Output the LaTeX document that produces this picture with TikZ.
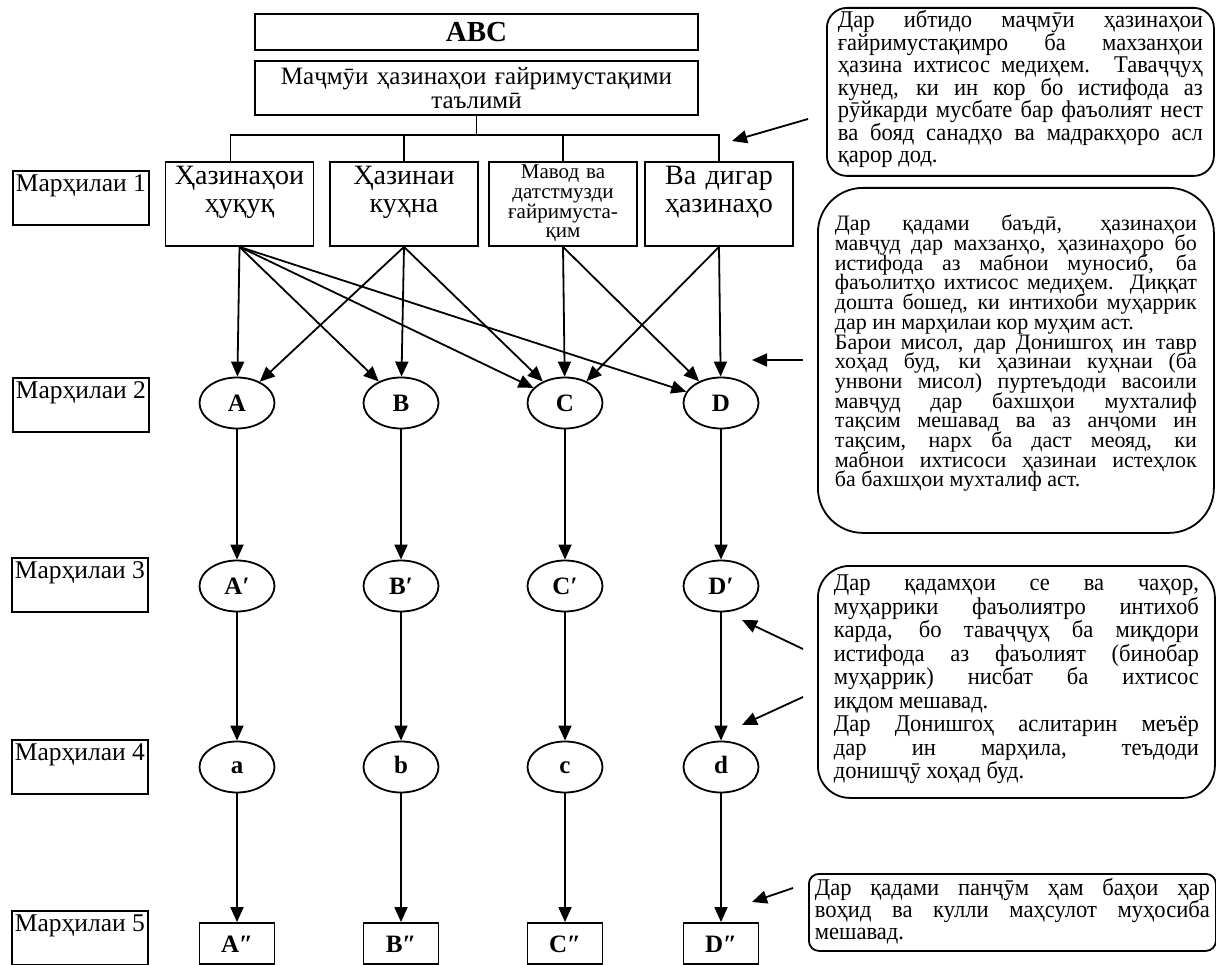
\documentclass[tikz,border=0pt]{standalone}
\usepackage{fontspec}
\setmainfont{Liberation Serif}
\newfontfamily\notefont[FakeStretch=0.94]{Liberation Serif}
\newcommand{\tightlines}{\lineskiplimit=-50pt\relax}
\usepackage{tikz}
\usetikzlibrary{arrows.meta,shapes.geometric}

\begin{document}
\begin{tikzpicture}[x=1pt,y=-1pt,line width=1.8pt,
	>={Triangle[length=15pt,width=13pt]},
	headbox/.style={draw,minimum width=443pt,inner sep=2pt,text width=435pt,align=center},
	stagelabel/.style={draw,anchor=north west,inner xsep=3pt,inner ysep=2pt,
		font=\fontsize{25.5}{25.5}\selectfont,text height=19pt,text depth=31pt},
	fundbox/.style={draw,text width=140pt,inner sep=4pt,align=center,
		font=\fontsize{28}{28}\selectfont,text height=19pt,text depth=57pt},
	pool/.style={draw,ellipse,minimum width=75pt,minimum height=51pt,inner sep=0pt,
		text height=17pt,text depth=0pt,font=\fontsize{25}{25}\selectfont\bfseries},
	costbox/.style={draw,minimum width=75pt,minimum height=41pt,inner sep=0pt,
		text height=18pt,text depth=0pt,font=\fontsize{25}{25}\selectfont\bfseries},
	note/.style={draw,anchor=north west,rounded corners=#1,align=justify,
		execute at begin node=\tightlines},
	note/.default=20pt]
	\useasboundingbox (0,0) rectangle (1216,965);
	%
	\node[headbox,minimum height=36pt,font=\fontsize{29}{29}\selectfont\bfseries] (abc) at (476.5,32) {ABC};
	\node[headbox,minimum height=54pt,font=\fontsize{25}{24}\selectfont] (total) at (476.5,88)
		{Маҷмӯи ҳазинаҳои ғайримустақими\\таълимӣ};
	\coordinate (bus) at (476.5,135);
	%
	\node[stagelabel] (st1) at (12,170) {Марҳилаи 1};
	\node[stagelabel] (st2) at (12,377) {Марҳилаи 2};
	\node[stagelabel] (st3) at (11,557) {Марҳилаи 3};
	\node[stagelabel] (st4) at (11,739) {Марҳилаи 4};
	\node[stagelabel] (st5) at (11,910) {Марҳилаи 5};
	%
	\node[fundbox] (s1a) at (239.5,204) {Ҳазинаҳои\\ҳуқуқ};
	\node[fundbox] (s1b) at (404,204) {Ҳазинаи\\куҳна};
	\node[fundbox,inner sep=2pt,text width=144pt,text height=15pt,text depth=65pt,
		font=\fontsize{21}{19.6}\selectfont,execute at begin node=\tightlines] (s1c) at (563,204)
		{Мавод ва\\датстмузди\\ғайримуста-\\қим};
	\node[fundbox] (s1d) at (719,204) {Ва дигар\\ҳазинаҳо};
	%
	\node[pool] (A) at (237,403) {A};
	\node[pool] (B) at (401,403) {B};
	\node[pool] (C) at (565,403) {C};
	\node[pool] (D) at (721,403) {D};
	\node[pool] (A') at (237,586) {A′};
	\node[pool] (B') at (401,586) {B′};
	\node[pool] (C') at (565,586) {C′};
	\node[pool] (D') at (721,586) {D′};
	\node[pool,text height=12pt] (a) at (237,767) {a};
	\node[pool,text height=12pt] (b) at (401,767) {b};
	\node[pool,text height=12pt] (c) at (565,767) {c};
	\node[pool,text height=12pt] (d) at (721,767) {d};
	\node[costbox] (A'') at (237,943.5) {A″};
	\node[costbox] (B'') at (401,943.5) {B″};
	\node[costbox] (C'') at (565,943.5) {C″};
	\node[costbox] (D'') at (721,943.5) {D″};
	%
	\node[note,text width=365pt,inner xsep=11pt,inner ysep=4pt,text height=16pt,text depth=144pt,
		font=\notefont\fontsize{24}{22.5}\selectfont] (note1) at (826,7)
		{Дар ибтидо маҷмӯи ҳазинаҳои\linebreak
		ғайримустақимро ба махзанҳои\linebreak
		ҳазина ихтисос медиҳем. Таваҷҷуҳ\linebreak
		кунед, ки ин кор бо истифода аз\linebreak
		рӯйкарди мусбате бар фаъолият нест\linebreak
		ва бояд санадҳо ва мадракҳоро асл\linebreak
		қарор дод.};
	\node[note=45pt,text width=362pt,inner xsep=17pt,inner ysep=4pt,text height=39pt,text depth=298pt,
		font=\fontsize{22}{19.7}\selectfont] (note2) at (817,187)
		{Дар қадами баъдӣ, ҳазинаҳои\linebreak
		мавҷуд дар махзанҳо, ҳазинаҳоро бо\linebreak
		истифода аз мабнои муносиб, ба\linebreak
		фаъолитҳо ихтисос медиҳем. Диққат\linebreak
		дошта бошед, ки интихоби муҳаррик\linebreak
		дар ин марҳилаи кор муҳим аст.\par
		Барои мисол, дар Донишгоҳ ин тавр\linebreak
		хоҳад буд, ки ҳазинаи куҳнаи (ба\linebreak
		унвони мисол) пуртеъдоди васоили\linebreak
		мавҷуд дар бахшҳои мухталиф\linebreak
		тақсим мешавад ва аз анҷоми ин\linebreak
		тақсим, нарх ба даст меояд, ки\linebreak
		мабнои ихтисоси ҳазинаи истеҳлок\linebreak
		ба бахшҳои мухталиф аст.};
	\node[note=32pt,text width=365pt,inner xsep=16pt,inner ysep=4pt,text height=21pt,text depth=203pt,
		font=\notefont\fontsize{24}{23.5}\selectfont] (note3) at (817,565)
		{Дар қадамҳои се ва чаҳор,\linebreak
		муҳаррики фаъолиятро интихоб\linebreak
		карда, бо таваҷҷуҳ ба миқдори\linebreak
		истифода аз фаъолият (бинобар\linebreak
		муҳаррик) нисбат ба ихтисос\linebreak
		иқдом мешавад.\par
		Дар Донишгоҳ аслитарин меъёр\linebreak
		дар ин марҳила, теъдоди\linebreak
		донишҷӯ хоҳад буд.};
	\node[note=10pt,text width=395pt,inner xsep=6pt,inner ysep=3pt,text height=19pt,text depth=52pt,
		font=\notefont\fontsize{24}{21.7}\selectfont] (note4) at (808,873)
		{Дар қадами панҷӯм ҳам баҳои ҳар\linebreak
		воҳид ва кулли маҳсулот муҳосиба\linebreak
		мешавад.};
	%
	\coordinate (n1from) at (808,119);
	\coordinate (n1to) at (732,141);
	\coordinate (n2from) at (803,360);
	\coordinate (n2to) at (752,360);
	\coordinate (n3from) at (803,649);
	\coordinate (n3to) at (742,620);
	\coordinate (n3bfrom) at (803,697);
	\coordinate (n3bto) at (742,725);
	\coordinate (n4from) at (793,888);
	\coordinate (n4to) at (752,902);
	%
	\draw (total.south) -- (bus);
	\draw ([xshift=-9pt]s1a.north) -- ([xshift=-9pt]s1a.north |- bus) -- (s1d.north |- bus) -- (s1d.north);
	\draw (s1b.north) -- (s1b.north |- bus);
	\draw (s1c.north) -- (s1c.north |- bus);
	%
	\path[->]
	(s1a.south) edge (A)
	(s1a.south) edge (B)
	(s1a.south) edge (C)
	(s1a.south) edge (D)
	(s1b.south) edge (A)
	(s1b.south) edge (B)
	(s1b.south) edge (C)
	(s1c.south) edge (C)
	(s1c.south) edge (D)
	(s1d.south) edge (C)
	(s1d.south) edge (D);
	%
	\path[->]
	(A) edge (A') (A') edge (a) (a) edge (A'')
	(B) edge (B') (B') edge (b) (b) edge (B'')
	(C) edge (C') (C') edge (c) (c) edge (C'')
	(D) edge (D') (D') edge (d) (d) edge (D'');
	%
	\path[->]
	(n1from) edge (n1to)
	(n2from) edge (n2to)
	(n3from) edge (n3to)
	(n3bfrom) edge (n3bto)
	(n4from) edge (n4to);
\end{tikzpicture}
\end{document}
